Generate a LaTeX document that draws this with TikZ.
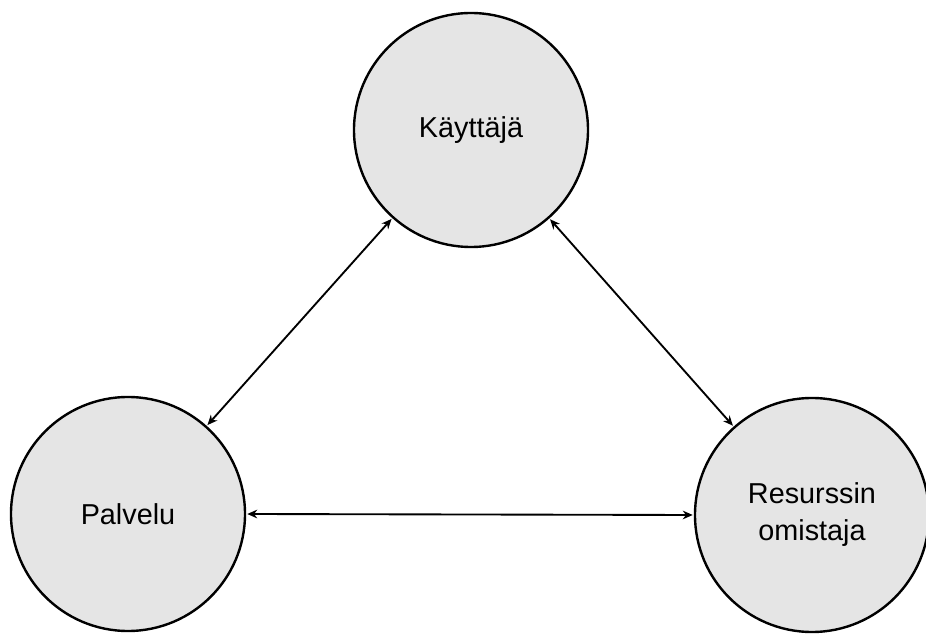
\documentclass[tikz,border=0pt]{standalone}
\usepackage{fontspec}
\setmainfont{Liberation Sans}
\usetikzlibrary{arrows.meta}
\definecolor{circfill}{RGB}{229,229,229}
\begin{document}
\begin{tikzpicture}[x=0.75pt,y=-0.75pt,
  party/.style={circle,draw=black,line width=1.8pt,fill=circfill,minimum size=175.5pt,inner sep=0pt,align=center,font=\fontsize{21.6}{27.75}\selectfont},
  link/.style={{Stealth[length=7.5pt,width=6.5pt]}-{Stealth[length=7.5pt,width=6.5pt]},line width=1.4pt,black,shorten <=0.8pt,shorten >=0.8pt}]
\useasboundingbox (0,0) rectangle (926,634);
\node[party] (user) at (471,130) {Käyttäjä};
\node[party] (service) at (128,514) {Palvelu};
\node[party] (owner) at (812,515) {Resurssin\\omistaja};
\draw[link] (user) -- (service);
\draw[link] (user) -- (owner);
\draw[link] (service.east) -- (owner.west);
\end{tikzpicture}
\end{document}
